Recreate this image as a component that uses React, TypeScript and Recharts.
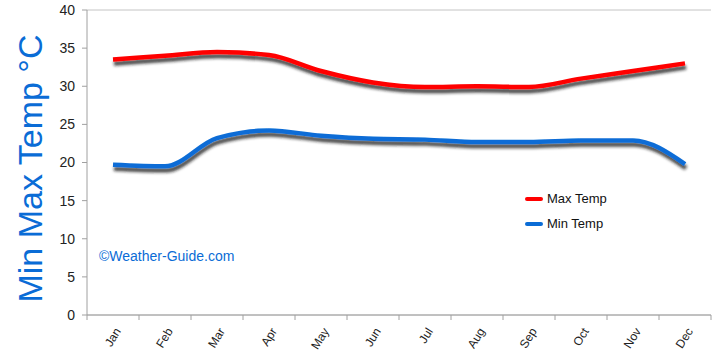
import React from 'react';
import { LineChart, Line, XAxis, YAxis, CartesianGrid } from 'recharts';

const months = ['Jan', 'Feb', 'Mar', 'Apr', 'May', 'Jun', 'Jul', 'Aug', 'Sep', 'Oct', 'Nov', 'Dec'];
const maxTemp = [33.5, 34, 34.5, 34.1, 32, 30.5, 29.9, 30, 29.9, 31, 32, 33];
const minTemp = [19.7, 19.5, 23.2, 24.2, 23.5, 23.1, 23, 22.7, 22.7, 22.9, 22.9, 19.8];
const yTicks = [0, 5, 10, 15, 20, 25, 30, 35, 40];
const seriesNames = ['Max Temp', 'Min Temp'];

const data = months.map((m, i) => ({ x: i + 0.5, month: m, max: maxTemp[i], min: minTemp[i] }));
const xTicks: number[] = [];
for (let i = 0; i <= 24; i++) xTicks.push(i / 2);

const FONT = "'Liberation Sans', sans-serif";
const BLUE = '#0a6cd6';
const RED = '#ff0000';

const XTick = (props: any) => {
  const { x, y, payload } = props;
  const v = payload.value;
  if (Number.isInteger(v)) {
    return <line x1={x} x2={x} y1={y} y2={y + 5} stroke="#a0a0a0" />;
  }
  const label = months[Math.floor(v)];
  return (
    <text
      x={0}
      y={0}
      transform={`translate(${x + 5},${y + 14}) rotate(-58)`}
      textAnchor="end"
      dominantBaseline="central"
      fontSize={12}
      fontFamily={FONT}
      fill="#222"
    >
      {label}
    </text>
  );
};

export default function App() {
  return (
    <div style={{ position: 'absolute', left: 0, top: 0, width: 720, height: 361, background: '#fff' }}>
      <LineChart width={720} height={361} data={data} margin={{ top: 10, right: 9, bottom: 0, left: 0 }}>
        <defs>
          <filter id="shadow" x="-10%" y="-60%" width="120%" height="220%">
            <feDropShadow dx="1" dy="4" stdDeviation="1.5" floodColor="#1a1a1a" floodOpacity="0.8" />
          </filter>
        </defs>
        <CartesianGrid vertical={false} stroke="#c4c4c4" />
        <XAxis
          dataKey="x"
          type="number"
          domain={[0, 12]}
          ticks={xTicks}
          interval={0}
          tickLine={false}
          tickSize={0}
          tickMargin={0}
          axisLine={{ stroke: '#a0a0a0' }}
          tick={<XTick />}
          height={46}
        />
        <YAxis
          yAxisId="left"
          domain={[0, 40]}
          ticks={yTicks}
          interval={0}
          width={87}
          tickSize={5}
          tickMargin={7}
          axisLine={{ stroke: '#a0a0a0' }}
          tickLine={{ stroke: '#a0a0a0' }}
          tick={{ fontSize: 14, fill: '#222', fontFamily: FONT }}
          label={{
            content: (p: any) => {
              const vb = p.viewBox;
              const cx = vb.x + 30;
              const cy = vb.y + vb.height / 2 + 6;
              return (
                <text
                  x={0}
                  y={0}
                  transform={`translate(${cx},${cy}) rotate(-90)`}
                  textAnchor="middle"
                  dominantBaseline="central"
                  fontSize={34}
                  fontFamily={FONT}
                  fill={BLUE}
                >
                  Min Max Temp °C
                </text>
              );
            },
          }}
        />
        <YAxis
          yAxisId="right"
          orientation="right"
          domain={[0, 40]}
          tick={false}
          tickLine={false}
          width={0}
          axisLine={{ stroke: '#b0b0b0' }}
        />
        <Line
          yAxisId="left"
          type="monotone"
          dataKey="max"
          name={seriesNames[0]}
          stroke={RED}
          strokeWidth={4.5}
          dot={false}
          filter="url(#shadow)"
          isAnimationActive={false}
        />
        <Line
          yAxisId="left"
          type="monotone"
          dataKey="min"
          name={seriesNames[1]}
          stroke={BLUE}
          strokeWidth={4.5}
          dot={false}
          filter="url(#shadow)"
          isAnimationActive={false}
        />
      </LineChart>
      <div style={{ position: 'absolute', left: 525, top: 186, fontFamily: FONT, fontSize: 13, color: '#111' }}>
        {[RED, BLUE].map((c, i) => (
          <div key={i} style={{ display: 'flex', alignItems: 'center', height: 25 }}>
            <span style={{ display: 'inline-block', width: 18, height: 4, borderRadius: 2, background: c, marginRight: 4 }} />
            {seriesNames[i]}
          </div>
        ))}
      </div>
      <div
        style={{
          position: 'absolute',
          left: 99,
          top: 248,
          fontFamily: FONT,
          fontSize: 14,
          color: BLUE,
        }}
      >
        ©Weather-Guide.com
      </div>
    </div>
  );
}
